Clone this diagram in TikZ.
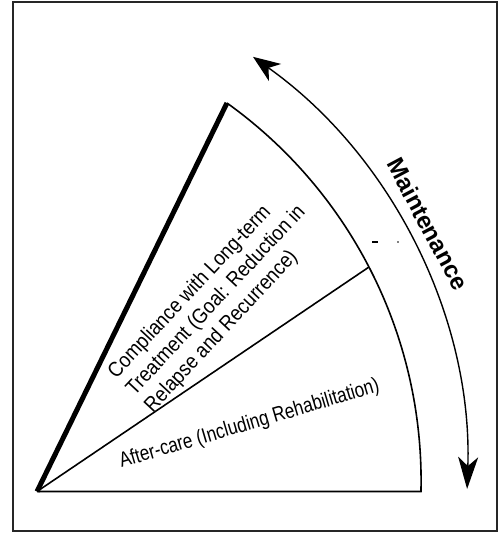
\documentclass[tikz,border=0pt]{standalone}
\usepackage{fontspec}
\setmainfont{Liberation Sans}
\newfontfamily\condfont{Liberation Sans}[FakeStretch=0.89]
\newfontfamily\narrowfont{Liberation Sans}[FakeStretch=0.82]
\usepackage{tikz}
\usetikzlibrary{arrows.meta,calc}

\begin{document}
\begin{tikzpicture}[x=1pt, y=1pt,
    fanline/.style={line width=1.6pt},
    leadline/.style={line width=5pt},
    phasetext/.style={inner sep=0pt, align=left},
    cyclearrow/.style={line width=1.4pt, arrows={Stealth[length=27pt,width=21pt,inset=8pt]-Stealth[length=32pt,width=20pt,inset=9pt]}}]
    \useasboundingbox (0,0) rectangle (499,533);
    % Frame
    \draw[line width=2pt, black!85] (13,2) rectangle (497,531);

    % Fan
    \coordinate (apex) at (37,41.5);
    \coordinate (fanC) at (-43.6,52.2);
    \coordinate (fanTop) at ($(fanC)+(54.39:464.7)$);
    \coordinate (fanMid) at ($(fanC)+(27.39:464.7)$);
    \coordinate (fanEnd) at ($(fanC)+(-1.32:464.7)$);
    \draw[fanline] (apex) -- (fanEnd) arc[start angle=-1.32, end angle=54.39, radius=464.7];
    \draw[fanline] (apex) -- (fanMid);
    \draw[leadline] (apex) -- (fanTop);

    % Stray marks
    \draw[line width=1.5pt] (372,291) -- (378,291);
    \fill (398,291) circle (0.9);

    % Maintenance arrow
    \coordinate (arrC) at (-42.6,60.6);
    \coordinate (arrTop) at ($(arrC)+(54.57:510)$);
    \draw[cyclearrow] (arrTop) arc[start angle=54.57, end angle=-1.87, radius=510];

    % Labels
    \node[phasetext, font=\condfont\fontsize{21}{25}\selectfont, rotate=47] (compliance) at (216.4,232.3) {Compliance with Long-term\\Treatment (Goal: Reduction in\\Relapse and Recurrence)};
    \node[phasetext, font=\narrowfont\fontsize{21}{25}\selectfont, rotate=16.5] (aftercare) at (249.5,108.6) {After-care (Including Rehabilitation)};
    \node[font=\fontsize{24}{26}\selectfont\bfseries, rotate=-62, inner sep=0pt] (maint) at (428,309) {Maintenance};
\end{tikzpicture}
\end{document}
